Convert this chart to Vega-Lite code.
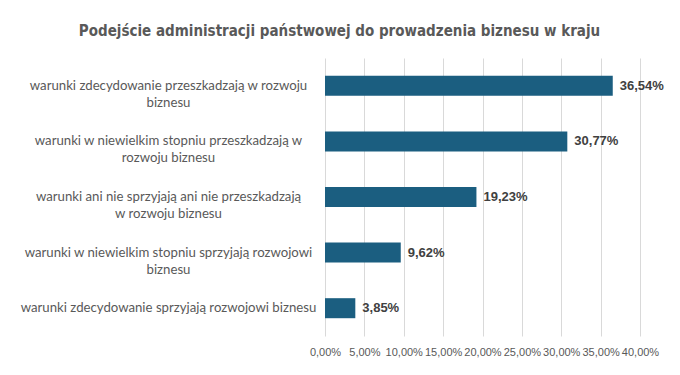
{
  "$schema": "https://vega.github.io/schema/vega-lite/v6.json",
  "width": 315,
  "height": 278,
  "autosize": {"type": "none"},
  "padding": {"left": 325, "top": 58, "right": 40, "bottom": 39},
  "background": "white",
  "title": {
    "text": "Podejście administracji  państwowej do prowadzenia biznesu w kraju",
    "anchor": "middle",
    "frame": "group",
    "dx": -143,
    "offset": 19,
    "font": "DejaVu Sans Condensed, Roboto, sans-serif",
    "fontSize": 15,
    "fontWeight": "bold",
    "color": "#595959"
  },
  "config": {
    "locale": {
      "number": {"decimal": ",", "thousands": " ", "grouping": [3], "currency": ["", " zł"]}
    },
    "view": {"stroke": null},
    "font": "Lato"
  },
  "data": {
    "values": [
      {"kategoria": "warunki zdecydowanie przeszkadzają w rozwoju|biznesu", "wartosc": 0.3654},
      {"kategoria": "warunki w niewielkim stopniu przeszkadzają w|rozwoju biznesu", "wartosc": 0.3077},
      {"kategoria": "warunki ani nie sprzyjają ani nie przeszkadzają|w rozwoju biznesu", "wartosc": 0.1923},
      {"kategoria": "warunki w niewielkim stopniu sprzyjają rozwojowi|biznesu", "wartosc": 0.0962},
      {"kategoria": "warunki zdecydowanie sprzyjają rozwojowi biznesu", "wartosc": 0.0385}
    ]
  },
  "encoding": {
    "y": {
      "field": "kategoria",
      "type": "nominal",
      "sort": "-x",
      "scale": {"paddingInner": 0.64, "paddingOuter": 0.32},
      "axis": {
        "title": null,
        "domain": false,
        "ticks": false,
        "tickSize": 0,
        "labelAlign": "center",
        "labelPadding": 157,
        "labelExpr": "split(datum.label, '|')",
        "labelFont": "Lato",
        "labelFontSize": 13.2,
        "labelColor": "#595959",
        "labelLimit": 400,
        "labelLineHeight": 17
      }
    },
    "x": {
      "field": "wartosc",
      "type": "quantitative",
      "scale": {"domain": [0, 0.4], "nice": false},
      "axis": {
        "title": null,
        "format": ".2%",
        "values": [0, 0.05, 0.1, 0.15, 0.2, 0.25, 0.3, 0.35, 0.4],
        "domain": false,
        "ticks": false,
        "labelPadding": 10,
        "labelFont": "Liberation Sans",
        "labelFontSize": 11,
        "labelColor": "#595959",
        "gridColor": "#d9d9d9",
        "labelFlush": false
      }
    }
  },
  "layer": [
    {"mark": {"type": "bar", "color": "#1B5E80"}},
    {
      "mark": {"type": "text", "align": "left", "dx": 7, "font": "Liberation Sans", "fontWeight": "bold", "fontSize": 13, "color": "#404040"},
      "encoding": {"text": {"field": "wartosc", "type": "quantitative", "format": ".2%"}}
    }
  ]
}
